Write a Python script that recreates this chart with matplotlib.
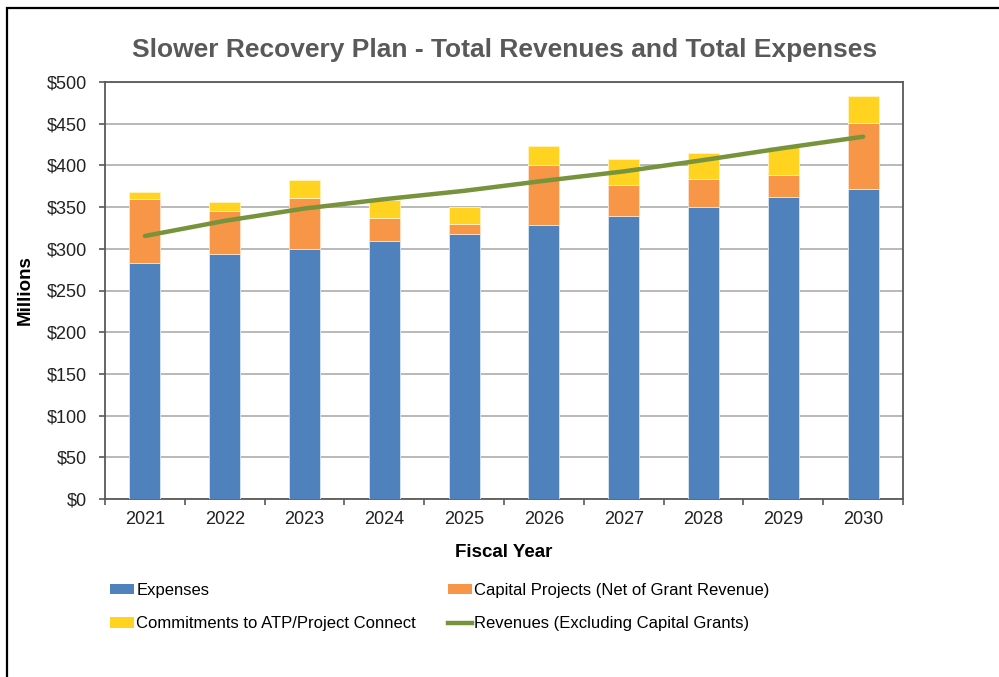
import matplotlib
matplotlib.use("Agg")
import matplotlib.pyplot as plt
from matplotlib.patches import Patch, Rectangle
from matplotlib.lines import Line2D
import numpy as np

plt.rcParams['font.family'] = ['Liberation Sans', 'DejaVu Sans']

years = ['2021', '2022', '2023', '2024', '2025', '2026', '2027', '2028', '2029', '2030']
expenses = [283.5, 294.3, 300.3, 309.4, 318.3, 328.6, 339.1, 350.7, 361.6, 371.5]
capital = [76.0, 51.2, 60.7, 27.6, 12.0, 72.1, 37.6, 33.2, 27.1, 79.7]
commitments = [8.1, 10.4, 21.0, 22.0, 20.4, 22.5, 30.9, 30.9, 33.0, 32.4]
revenues = [315.4, 333.5, 348.3, 359.5, 369.5, 381.5, 392.8, 406.4, 420.8, 434.4]
yticks = [0, 50, 100, 150, 200, 250, 300, 350, 400, 450, 500]

c_blue = '#4F81BD'
c_orange = '#F79646'
c_yellow = '#FFD320'
c_green = '#77933C'
dark = '#595959'

fig = plt.figure(figsize=(9.99, 6.77), dpi=100)
ax = fig.add_axes([105/999, 1-499/677, (903-105)/999, (499-82)/677])

x = np.arange(len(years))
w = 0.39
ax.bar(x, expenses, w, color=c_blue, edgecolor='#dde6f2', linewidth=0.6, zorder=3)
ax.bar(x, capital, w, bottom=expenses, color=c_orange, edgecolor='#fde3cf', linewidth=0.6, zorder=3)
bot2 = [a + b for a, b in zip(expenses, capital)]
ax.bar(x, commitments, w, bottom=bot2, color=c_yellow, edgecolor='#fff3c0', linewidth=0.6, zorder=3)
ax.plot(x, revenues, color=c_green, linewidth=3.2, zorder=4, solid_capstyle='round')

ax.set_xlim(-0.5, len(years) - 0.5)
ax.set_ylim(0, 500)
ax.set_yticks(yticks)
ax.set_yticklabels([f'${v}' for v in yticks], fontsize=13, color='#222222')
ax.set_xticks(x)
ax.set_xticklabels(years, fontsize=13, color='#222222')
ax.set_xticks(np.arange(-0.5, len(years)), minor=True)
ax.tick_params(axis='x', which='major', length=0, pad=9)
ax.tick_params(axis='x', which='minor', length=4.5, color=dark, width=1.2, direction='out')
ax.tick_params(axis='y', which='major', length=4.5, color=dark, width=1.2, direction='out', pad=8.5)
ax.yaxis.grid(True, color='#a6a6a6', linewidth=1.1, zorder=0)
ax.set_axisbelow(True)
for s in ax.spines.values():
    s.set_color(dark)
    s.set_linewidth(1.3)

ax.set_ylabel('Millions', fontsize=13.5, fontweight='bold', labelpad=9)
ax.set_xlabel('Fiscal Year', fontsize=13.5, fontweight='bold', labelpad=11)
fig.text(505/999, 1-50/677, 'Slower Recovery Plan - Total Revenues and Total Expenses',
         ha='center', va='center', fontsize=19, fontweight='bold', color=dark)

lkw = dict(loc='upper left', frameon=False, handlelength=1.45, handleheight=0.6,
           handletextpad=0.12, labelspacing=1.1, borderaxespad=0, borderpad=0,
           prop={'size': 12})
leg1 = fig.legend([Patch(facecolor=c_blue, edgecolor='none'), Patch(facecolor=c_yellow, edgecolor='none')],
                  ['Expenses', 'Commitments to ATP/Project Connect'],
                  bbox_to_anchor=(110/999, 1-583/677), **lkw)
leg2 = fig.legend([Patch(facecolor=c_orange, edgecolor='none'), Line2D([0], [0], color=c_green, linewidth=3.2)],
                  ['Capital Projects (Net of Grant Revenue)', 'Revenues (Excluding Capital Grants)'],
                  bbox_to_anchor=(448/999, 1-583/677), **lkw)

fig.add_artist(Rectangle((7/999, -0.1), 1.2, 1.1 - 8/677, transform=fig.transFigure,
                         fill=False, edgecolor='black', linewidth=1.6))

fig.savefig('out.png', dpi=100)
